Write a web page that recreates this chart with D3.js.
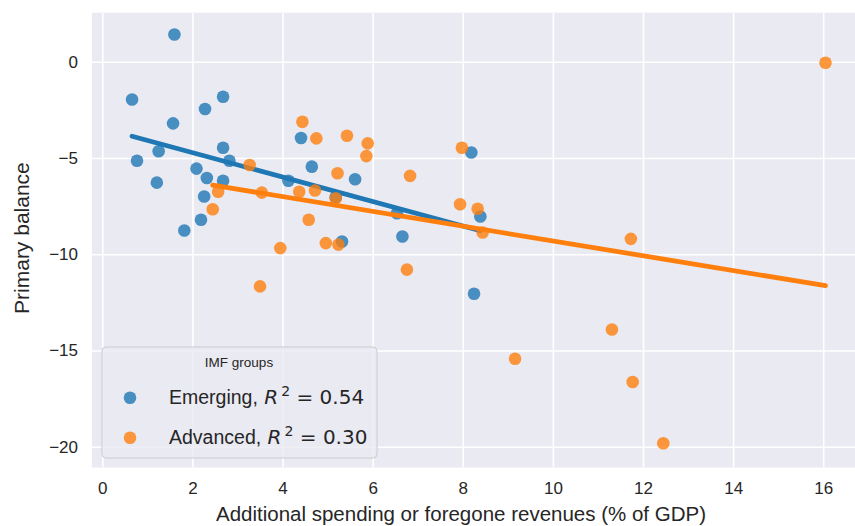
<!DOCTYPE html>
<html>
<head>
<meta charset="utf-8">
<script src="https://cdn.jsdelivr.net/npm/d3@7"></script>
<style>
  html, body { margin: 0; padding: 0; background: #ffffff; }
  svg { display: block; }
</style>
</head>
<body>
<svg id="chart" width="855" height="526"></svg>
<script>
// ---- data ----
const emergingX = [1.60, 0.66, 2.68, 2.28, 1.57, 0.77, 1.25, 1.21, 2.68, 2.82, 2.09, 2.32, 2.68, 2.26, 2.19, 1.82,
                   4.41, 4.65, 4.13, 5.61, 5.18, 6.54, 6.66, 5.32, 8.19, 8.39, 8.25];
const emergingY = [1.42, -1.96, -1.82, -2.45, -3.20, -5.14, -4.65, -6.28, -4.47, -5.14, -5.55, -6.04, -6.18, -7.00, -8.21, -8.77,
                   -3.96, -5.45, -6.18, -6.10, -7.04, -7.87, -9.08, -9.34, -4.71, -8.04, -12.05];
const advancedX = [4.44, 4.75, 3.27, 2.57, 2.45, 3.54, 4.37, 4.72, 5.22, 4.58, 3.95, 4.96, 5.24, 5.43, 5.89, 5.86,
                   5.18, 6.83, 6.76, 3.50, 7.98, 7.94, 8.33, 8.44, 11.73, 11.31, 9.16, 11.77, 12.45, 16.05];
const advancedY = [-3.12, -3.98, -5.36, -6.75, -7.66, -6.80, -6.75, -6.69, -5.79, -8.21, -9.68, -9.42, -9.50, -3.84, -4.24, -4.90,
                   -7.09, -5.93, -10.80, -11.67, -4.47, -7.40, -7.64, -8.87, -9.20, -13.91, -15.43, -16.64, -19.82, -0.05];
// fitted regression lines (slope, intercept) as shown
const emergingFit = [-0.635, -3.45];
const advancedFit = [-0.384, -5.47];
const groupNames = ["Emerging", "Advanced"];
const groupR2 = ["0.54", "0.30"];
const xTicks = [0, 2, 4, 6, 8, 10, 12, 14, 16];
const yTicks = [0, -5, -10, -15, -20];
const legendTitle = "IMF groups";
const xLabel = "Additional spending or foregone revenues (% of GDP)";
const yLabel = "Primary balance";

// ---- layout ----
const W = 855, H = 526;
const plot = {left: 92, top: 12.7, right: 862, bottom: 467.5};
const colors = ["#1f77b4", "#ff7f0e"];

const x = d3.scaleLinear().domain([-0.229, 16.86]).range([plot.left, plot.right]);
const y = d3.scaleLinear().domain([2.55, -21.08]).range([plot.top, plot.bottom]);

const svg = d3.select("#chart");
const fontMain = "'Liberation Sans', Arial, Helvetica, sans-serif";
const fontMath = "'DejaVu Sans', sans-serif";
const textColor = "#262626";

svg.append("defs").append("clipPath").attr("id", "clip")
  .append("rect").attr("x", plot.left).attr("y", plot.top)
  .attr("width", plot.right - plot.left).attr("height", plot.bottom - plot.top);

// background
svg.append("rect").attr("x", plot.left).attr("y", plot.top)
  .attr("width", plot.right - plot.left).attr("height", plot.bottom - plot.top)
  .attr("fill", "#EAEAF2");

// grid via axes
const gx = svg.append("g").attr("transform", `translate(0,${plot.bottom})`)
  .call(d3.axisBottom(x).tickValues(xTicks).tickSize(-(plot.bottom - plot.top)).tickFormat(""));
gx.select(".domain").remove();
gx.selectAll("line").attr("stroke", "#ffffff").attr("stroke-width", 1.6);

const gy = svg.append("g").attr("transform", `translate(${plot.left},0)`)
  .call(d3.axisLeft(y).tickValues(yTicks).tickSize(-(plot.right - plot.left)).tickFormat(""));
gy.select(".domain").remove();
gy.selectAll("line").attr("stroke", "#ffffff").attr("stroke-width", 1.6);

// tick labels via axes
const fmt = d => (d < 0 ? "\u2212" + Math.abs(d) : String(d));
const tx = svg.append("g").attr("transform", `translate(0,${plot.bottom})`)
  .call(d3.axisBottom(x).tickValues(xTicks).tickSize(0).tickPadding(14).tickFormat(fmt));
tx.select(".domain").remove();
tx.selectAll("text").attr("font-family", fontMain).attr("font-size", 17).attr("fill", textColor);

const ty = svg.append("g").attr("transform", `translate(${plot.left},0)`)
  .call(d3.axisLeft(y).tickValues(yTicks).tickSize(0).tickPadding(14).tickFormat(fmt));
ty.select(".domain").remove();
ty.selectAll("text").attr("font-family", fontMain).attr("font-size", 17).attr("fill", textColor);

// marks
const layer = svg.append("g").attr("clip-path", "url(#clip)");
const groups = [
  {xs: emergingX, ys: emergingY, fit: emergingFit, color: colors[0]},
  {xs: advancedX, ys: advancedY, fit: advancedFit, color: colors[1]}
];
groups.forEach(g => {
  const pts = g.xs.map((v, i) => [v, g.ys[i]]);
  layer.append("g").selectAll("circle").data(pts).join("circle")
    .attr("cx", d => x(d[0])).attr("cy", d => y(d[1])).attr("r", 6.3)
    .attr("fill", g.color).attr("fill-opacity", 0.8);
  const [x0, x1] = d3.extent(g.xs);
  const line = d3.line().x(d => x(d)).y(d => y(g.fit[0] * d + g.fit[1]));
  layer.append("path").attr("d", line([x0, x1]))
    .attr("stroke", g.color).attr("stroke-width", 4.8).attr("fill", "none")
    .attr("stroke-linecap", "round");
});

// axis labels
svg.append("text").attr("x", 461).attr("y", 521).attr("text-anchor", "middle")
  .attr("font-family", fontMain).attr("font-size", 20.5).attr("fill", textColor).text(xLabel);
svg.append("text").attr("transform", `translate(29,${(plot.top + plot.bottom) / 2 - 2}) rotate(-90)`)
  .attr("text-anchor", "middle")
  .attr("font-family", fontMain).attr("font-size", 21).attr("fill", textColor).text(yLabel);

// legend
const lg = svg.append("g");
lg.append("rect").attr("x", 102).attr("y", 347).attr("width", 275).attr("height", 111)
  .attr("rx", 4).attr("fill", "#EAEAF2").attr("fill-opacity", 0.8)
  .attr("stroke", "#cccccc").attr("stroke-width", 1);
lg.append("text").attr("x", 239).attr("y", 366.5).attr("text-anchor", "middle")
  .attr("font-family", fontMain).attr("font-size", 13.5).attr("fill", textColor).text(legendTitle);
groupNames.forEach((name, i) => {
  const cy = 397.7 + i * 40;
  lg.append("circle").attr("cx", 130).attr("cy", cy).attr("r", 6.3)
    .attr("fill", colors[i]).attr("fill-opacity", 0.8);
  const t = lg.append("text").attr("x", 169).attr("y", cy + 6)
    .attr("font-family", fontMain).attr("font-size", 19.5).attr("fill", textColor);
  t.append("tspan").text(name + ", ");
  t.append("tspan").attr("font-family", fontMath).attr("font-style", "italic").attr("font-size", 20).attr("dx", 1).text("R");
  t.append("tspan").attr("font-family", fontMath).attr("font-size", 14).attr("dy", -8).attr("dx", 3).text("2");
  t.append("tspan").attr("font-family", fontMath).attr("font-size", 20).attr("dy", 8).text(" = " + groupR2[i]);
});
</script>
</body>
</html>
